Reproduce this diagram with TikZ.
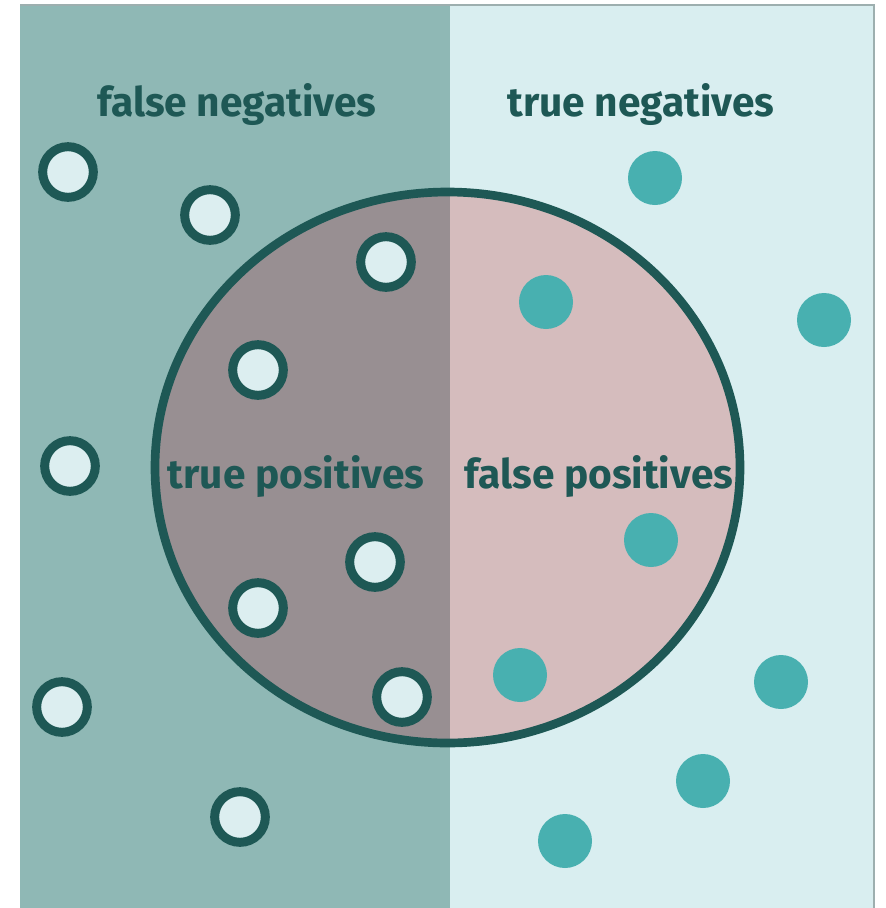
\documentclass[tikz,border=0pt]{standalone}
\usepackage{fontspec}
\setmainfont{Fira Sans}

\definecolor{panelFN}{HTML}{8FB8B5}
\definecolor{panelTN}{HTML}{D9EEF0}
\definecolor{halfTP}{HTML}{988F92}
\definecolor{halfFP}{HTML}{D5BCBD}
\definecolor{tealDark}{HTML}{1E5855}
\definecolor{tealDot}{HTML}{48B0B0}
\definecolor{dotFill}{HTML}{DCEEF0}
\definecolor{frameGray}{HTML}{9DAFAF}

\tikzset{
	openDot/.style={circle, draw=tealDark, line width=6.75pt, fill=dotFill, minimum size=38pt, inner sep=0pt},
	fullDot/.style={circle, fill=tealDot, minimum size=40.5pt, inner sep=0pt},
	areaLabel/.style={text=tealDark, font=\fontsize{30.5}{32}\selectfont\bfseries, inner sep=0.75pt, anchor=base}
}

\begin{document}
\begin{tikzpicture}[x=0.75pt,y=0.75pt,yscale=-1,xscale=1]
	\useasboundingbox (0,0) rectangle (886,908);

	% Panels
	\fill [panelFN] (20,5) rectangle (450,908);
	\fill [panelTN] (450,5) rectangle (873,908);
	\draw [frameGray, line width=1.5] (20,5) -- (874,5) -- (874,908);

	% Big circle, two halves
	\begin{scope}
		\clip (447.5,467.5) ellipse [x radius=292.5, y radius=275.5];
		\fill [halfTP] (150,180) rectangle (450,760);
		\fill [halfFP] (450,180) rectangle (750,760);
	\end{scope}
	\draw [tealDark, line width=6.5] (447.5,467.5) ellipse [x radius=292.5, y radius=275.5];

	% Text Node
	\node [areaLabel] (lblFN) at (237,116) {false negatives};
	% Text Node
	\node [areaLabel] (lblTN) at (641,116) {true negatives};
	% Text Node
	\node [areaLabel] (lblTP) at (296,488) {true positives};
	% Text Node
	\node [areaLabel] (lblFP) at (599,488) {false positives};

	% Open dots
	\node [openDot] (fn1) at (68,172) {};
	\node [openDot] (fn2) at (210,215) {};
	\node [openDot] (fn3) at (70,466) {};
	\node [openDot] (fn4) at (62,707) {};
	\node [openDot] (fn5) at (240,817) {};
	\node [openDot] (tp1) at (386,262) {};
	\node [openDot] (tp2) at (258,370) {};
	\node [openDot] (tp3) at (375,562) {};
	\node [openDot] (tp4) at (258,608) {};
	\node [openDot] (tp5) at (402,697) {};

	% Filled dots
	\node [fullDot] (tn1) at (655,178) {};
	\node [fullDot] (tn2) at (824,320) {};
	\node [fullDot] (tn3) at (781,682) {};
	\node [fullDot] (tn4) at (703,781) {};
	\node [fullDot] (tn5) at (565,841) {};
	\node [fullDot] (fp1) at (546,302) {};
	\node [fullDot] (fp2) at (651,540) {};
	\node [fullDot] (fp3) at (520,675) {};

\end{tikzpicture}
\end{document}
